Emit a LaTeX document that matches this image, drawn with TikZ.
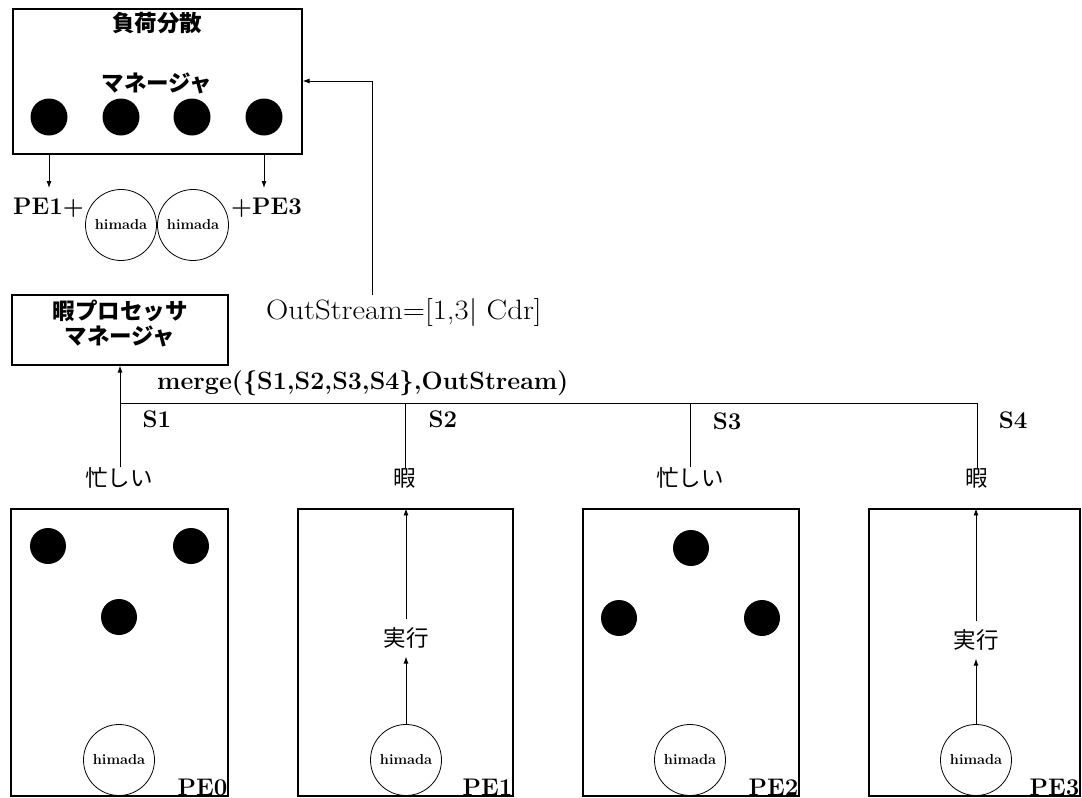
\documentclass[tikz,border=0pt]{standalone}
\usepackage{fontspec}
\newfontfamily\jp{Noto Sans CJK JP}
\usetikzlibrary{arrows.meta}
\begin{document}
\begin{tikzpicture}[x=1pt,y=-1pt,
  box/.style={draw, line width=1.1pt, inner sep=0pt},
  dot/.style={circle, fill=black, inner sep=0pt, minimum size=37pt},
  him/.style={circle, draw, line width=0.8pt, inner sep=0pt, minimum size=71pt, font=\bfseries\fontsize{14.5}{14.5}\selectfont},
  lbl/.style={inner sep=0pt, font=\bfseries\fontsize{24}{24}\selectfont},
  txt/.style={inner sep=0pt, font=\fontsize{28}{28}\selectfont},
  jpb/.style={inner sep=0pt, font=\jp\bfseries\fontsize{22.5}{22.5}\selectfont},
  jpr/.style={inner sep=0pt, font=\jp\fontsize{22.5}{22.5}\selectfont},
  arr/.style={-{Latex[length=7pt,width=5pt]}, line width=0.9pt},
  ln/.style={line width=0.9pt}]
\useasboundingbox (0,0) rectangle (1082,798);

% load balancing manager
\node[box, minimum width=289pt, minimum height=145pt] (lb) at (157.5,81.5) {};
\node[jpb] (lbt1) at (157,23) {負荷分散};
\node[jpb] (lbt2) at (157,83) {マネージャ};
\node[dot] (m1) at (49,117) {};
\node[dot] (m2) at (121,117) {};
\node[dot] (m3) at (192,117) {};
\node[dot] (m4) at (264,117) {};

\node[lbl, anchor=west] (pe1p) at (13,208) {PE1+};
\node[lbl, anchor=east] (pe3p) at (302,208) {+PE3};
\node[him] (h1) at (121,225) {himada};
\node[him] (h2) at (193,225) {himada};
\coordinate (a1) at (49,188);
\coordinate (a3) at (264,188);
\draw[arr] (lb.south -| a1) -- (a1);
\draw[arr] (lb.south -| a3) -- (a3);

% idle processor manager
\node[box, minimum width=216pt, minimum height=70pt] (hm) at (120,330) {};
\node[jpb] (hmt1) at (120,311) {暇プロセッサ};
\node[jpb] (hmt2) at (120,336) {マネージャ};

\node[txt, anchor=west] (os) at (266,312) {\scalebox{1.1}[1]{OutStream=[1,3| Cdr]}};
\coordinate (osTop) at (372,295);
\coordinate (c81) at (372,81);
\draw[arr] (osTop) -- (c81) -- (lb.east |- c81);

\node[lbl, anchor=west, font=\bfseries\fontsize{25}{25}\selectfont] (mg) at (157,383) {merge(\{S1,S2,S3,S4\},OutStream)};

% status labels
\node[jpr] (t1) at (119,478) {忙しい};
\node[jpr] (t2) at (405,478) {暇};
\node[jpr] (t3) at (690,478) {忙しい};
\node[jpr] (t4) at (977,478) {暇};
\coordinate (bus) at (0,403);

\draw[arr] (t1.north -| hm.south) -- (hm.south);
\draw[ln] (hm.south |- bus) -- (t4 |- bus) -- (t4.north);
\draw[ln] (t2 |- bus) -- (t2.north);
\draw[ln] (t3 |- bus) -- (t3.north);

\node[lbl] (s1) at (157,419) {S1};
\node[lbl] (s2) at (443,419) {S2};
\node[lbl] (s3) at (727,421) {S3};
\node[lbl] (s4) at (1013,420) {S4};

% PE boxes
\node[box, minimum width=217pt, minimum height=287pt] (pe0) at (119.5,652.5) {};
\node[box, minimum width=215pt, minimum height=287pt] (pe1) at (405.5,652.5) {};
\node[box, minimum width=216pt, minimum height=287pt] (pe2) at (691,652.5) {};
\node[box, minimum width=211pt, minimum height=287pt] (pe3) at (974.5,652.5) {};

\node[lbl, anchor=south east] (l0) at ([xshift=-1pt,yshift=1pt]pe0.south east) {PE0};
\node[lbl, anchor=south east] (l1) at ([xshift=-1pt,yshift=1pt]pe1.south east) {PE1};
\node[lbl, anchor=south east] (l2) at ([xshift=-1pt,yshift=1pt]pe2.south east) {PE2};
\node[lbl, anchor=south east] (l3) at ([xshift=-1pt,yshift=1pt]pe3.south east) {PE3};

% PE0
\node[dot, minimum size=36pt] (p0a) at (48,546) {};
\node[dot, minimum size=36pt] (p0b) at (191,546) {};
\node[dot, minimum size=36pt] (p0c) at (119,617) {};
\node[him] (h0) at (119,760) {himada};

% PE1
\node[him] (h4) at (406,760) {himada};
\node[jpr, inner sep=8pt] (ex1) at (406,638) {実行};
\draw[arr] (h4) -- (ex1);
\draw[arr] (ex1) -- (ex1 |- pe1.north);

% PE2
\node[dot, minimum size=36pt] (p2a) at (691,548) {};
\node[dot, minimum size=36pt] (p2b) at (619,618) {};
\node[dot, minimum size=36pt] (p2c) at (762,618) {};
\node[him] (h5) at (690,760) {himada};

% PE3
\node[him] (h6) at (976,760) {himada};
\node[jpr, inner sep=8pt] (ex3) at (976,640) {実行};
\draw[arr] (h6) -- (ex3);
\draw[arr] (ex3) -- (ex3 |- pe3.north);
\end{tikzpicture}
\end{document}
